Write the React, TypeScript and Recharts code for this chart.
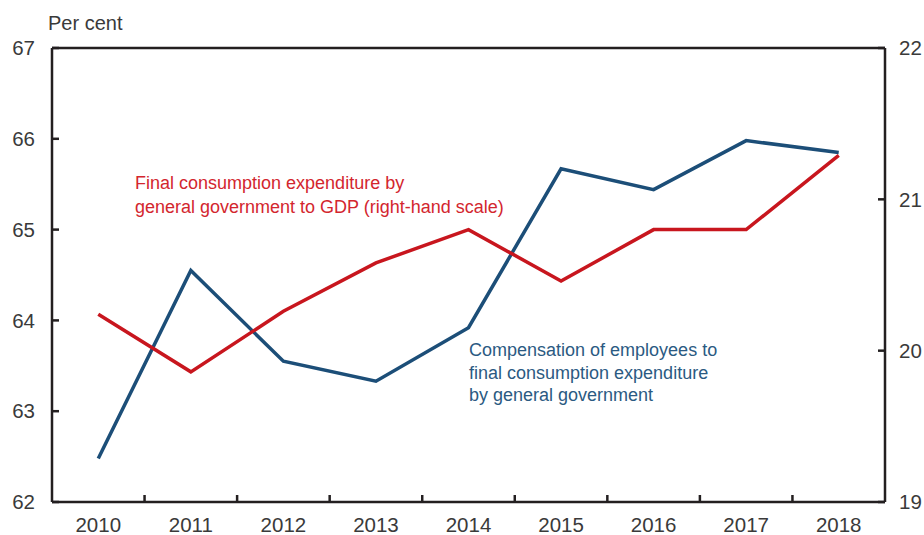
import { LineChart, Line, XAxis, YAxis, ReferenceLine } from "recharts";

const years = ["2010", "2011", "2012", "2013", "2014", "2015", "2016", "2017", "2018"];
// compensation of employees / final consumption expenditure (left scale)
const compensation = [62.48, 64.55, 63.55, 63.33, 63.92, 65.67, 65.44, 65.98, 65.85];
// final consumption expenditure / GDP (right scale)
const consumptionToGdp = [20.24, 19.86, 20.26, 20.58, 20.8, 20.46, 20.8, 20.8, 21.29];
const leftTicks = [62, 63, 64, 65, 66, 67];
const rightTicks = [19, 20, 21, 22];

const data = years.map((year, i) => ({
  year,
  compensation: compensation[i],
  consumption: consumptionToGdp[i],
}));

const INK = "#231f20";
const BLUE = "#1c4e78";
const RED = "#c8161e";
const FONT = "'Liberation Sans', Arial, Helvetica, sans-serif";
const TEXT = "#3a3a3a";
const tickStyle = { fontSize: 20.5, fill: TEXT, fontFamily: FONT };
const X_TICK_MARGIN = 15;

// year label at the band centre, plus a short inward tick on the band's right edge
const YearTick = (props: any) => {
  const { x, y, payload, index } = props;
  const half = payload?.offset ?? 833 / years.length / 2;
  const axisY = y - X_TICK_MARGIN;
  return (
    <g>
      <text x={x} y={y} dy="0.71em" textAnchor="middle" {...tickStyle}>
        {payload.value}
      </text>
      {index < years.length - 1 && (
        <line x1={x + half} x2={x + half} y1={axisY} y2={axisY - 7} stroke={INK} strokeWidth={2.5} />
      )}
    </g>
  );
};

export default function App() {
  return (
    <div style={{ position: "absolute", left: 0, top: 0, width: 924, height: 535, background: "#fff", fontFamily: FONT }}>
      <LineChart width={924} height={535} data={data} margin={{ top: 48, right: 0, left: 0, bottom: 0 }}>
        <XAxis
          dataKey="year"
          scale="band"
          height={33}
          axisLine={{ stroke: INK, strokeWidth: 2.5 }}
          tickLine={false}
          tickSize={0}
          tickMargin={X_TICK_MARGIN}
          tick={YearTick}
          interval={0}
        />
        <YAxis
          yAxisId="left"
          width={52}
          domain={[62, 67]}
          ticks={leftTicks}
          interval={0}
          axisLine={{ stroke: INK, strokeWidth: 2.5 }}
          tickLine={{ stroke: INK, strokeWidth: 2.5 }}
          tickSize={-7}
          tickMargin={24}
          tick={tickStyle}
        />
        <YAxis
          yAxisId="right"
          orientation="right"
          width={39}
          domain={[19, 22]}
          ticks={rightTicks}
          interval={0}
          axisLine={{ stroke: INK, strokeWidth: 2.5 }}
          tickLine={{ stroke: INK, strokeWidth: 2.5 }}
          tickSize={-7}
          tickMargin={21}
          tick={{ ...tickStyle, textAnchor: "start" }}
        />
        <ReferenceLine yAxisId="left" y={67} stroke={INK} strokeWidth={2.5} />
        <Line
          yAxisId="left"
          dataKey="compensation"
          type="linear"
          stroke={BLUE}
          strokeWidth={3.5}
          dot={false}
          isAnimationActive={false}
        />
        <Line
          yAxisId="right"
          dataKey="consumption"
          type="linear"
          stroke={RED}
          strokeWidth={3.5}
          dot={false}
          isAnimationActive={false}
        />
      </LineChart>
      <div style={{ position: "absolute", left: 48, top: 12, fontSize: 20, color: TEXT, lineHeight: "22px" }}>Per cent</div>
      <div style={{ position: "absolute", left: 135, top: 172, fontSize: 18, color: "#d3262e", lineHeight: "23.5px" }}>
        Final consumption expenditure by
        <br />
        general government to GDP (right-hand scale)
      </div>
      <div style={{ position: "absolute", left: 469, top: 339, fontSize: 18, color: "#2b5a82", lineHeight: "22.5px" }}>
        Compensation of employees to
        <br />
        final consumption expenditure
        <br />
        by general government
      </div>
    </div>
  );
}
